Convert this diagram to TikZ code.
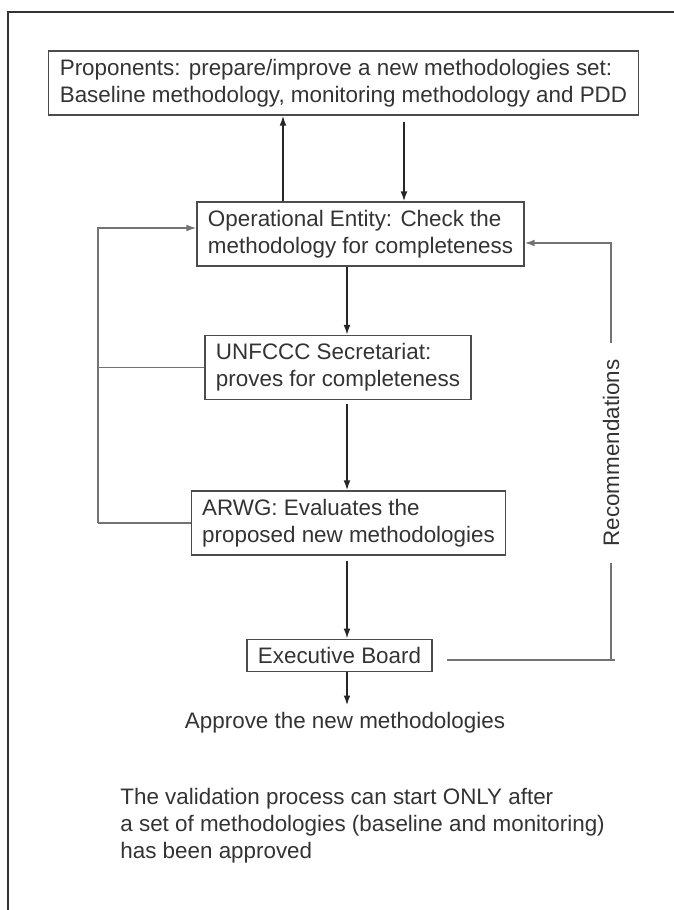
\documentclass[tikz,border=0pt]{standalone}
\usepackage{fontspec}
\setmainfont{Liberation Sans}
\usepackage{xcolor}
\usepackage{tikz}
\usetikzlibrary{arrows.meta}

\begin{document}
\begin{tikzpicture}[x=0.5pt, y=-0.5pt, node distance=70pt,
        font=\fontsize{11.2}{13.5}\selectfont, text=black!80,
        box/.style={draw=black!70, line width=0.6pt, align=left, inner xsep=5.5pt, inner ysep=4pt},
        arr/.style={-{Latex[length=5pt,width=3.4pt]}, draw=black!85, line width=0.9pt},
        loop line/.style={draw=black!55, line width=0.7pt}]

    \useasboundingbox (0,0) rectangle (674,910);
    \draw[black!80, line width=1.2pt] (8,910) -- (8,12) -- (674,12);

    \node[box] (prop) at (343.5,83) {Proponents: prepare/improve a new methodologies set:\\Baseline methodology, monitoring methodology and PDD};
    \node[box] (oe) [below of=prop, node distance=75.5pt, xshift=8.5pt] {Operational Entity: Check the\\methodology for completeness};
    \node[box] (un) [below of=oe, node distance=66.75pt, xshift=-11.25pt] {UNFCCC Secretariat:\\proves for completeness};
    \node[box] (arwg) [below of=un, node distance=77.75pt, xshift=5.25pt] {ARWG: Evaluates the\\proposed new methodologies};
    \node[box] (exec) [below of=arwg, node distance=66.25pt, xshift=-4.5pt] {Executive Board};
    \node (approve) [below of=exec, node distance=33.75pt, xshift=2.75pt] {Approve the new methodologies};
    \node[rotate=90, inner xsep=8pt] (rec) at (611,453) {Recommendations};
    \node[align=left, inner sep=0pt, anchor=north west] (note) at (120,788) {The validation process can start ONLY after\\a set of methodologies (baseline and monitoring)\\has been approved};

    \coordinate (ax) at (347,0);
    \coordinate (ux) at (283,0);
    \coordinate (dx) at (404,0);
    \coordinate (lx) at (98,0);
    \coordinate (rt) at (611,243);
    \coordinate (rb) at (611,660);

    % main chain
    \draw[arr] (oe.north -| ux) -- (prop.south -| ux);
    \draw[arr, shorten <=3pt] (prop.south -| dx) -- (oe.north -| dx);
    \draw[arr] (oe.south -| ax) -- (un.north -| ax);
    \draw[arr, shorten <=2pt] (un.south -| ax) -- (arwg.north -| ax);
    \draw[arr, shorten <=2.5pt] (arwg.south -| ax) -- (exec.north -| ax);
    \draw[arr] (exec.south -| ax) -- (approve.north -| ax);

    % feedback to the left
    \draw[arr, loop line] (arwg.west -| lx) |- ([yshift=3pt]oe.west);
    \draw[loop line] (un.west) -- (un.west -| lx);
    \draw[loop line] (arwg.west) -- (arwg.west -| lx);

    % recommendations
    \draw[arr, loop line] (rec) -- (rt) -- (oe.east |- rt);
    \draw[loop line] (rec) -- (rb);
    \draw[loop line, shorten <=7pt, shorten >=-2pt] (exec.east |- rb) -- (rb);
\end{tikzpicture}
\end{document}
